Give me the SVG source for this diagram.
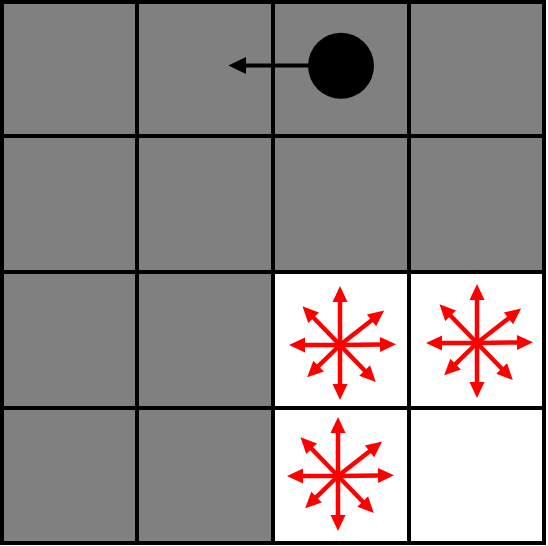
<svg xmlns="http://www.w3.org/2000/svg" xmlns:xlink="http://www.w3.org/1999/xlink" width="548" height="546" viewBox="0 0 548 546">
  <style>
    .cell-dark { fill: #808080; }
    .cell-light { fill: #ffffff; }
    .grid { stroke: #000000; stroke-width: 4; fill: none; }
    .red { stroke: #ff0000; stroke-width: 4.5; fill: none; }
    .move { stroke: #000000; stroke-width: 4; fill: none; }
  </style>
  <defs>
    <marker id="redhead" markerUnits="userSpaceOnUse" orient="auto" markerWidth="16" markerHeight="16" refX="0" refY="0" overflow="visible">
      <path d="M-1,-7.5 L15,0 L-1,7.5 Z" fill="#ff0000"/>
    </marker>
    <g id="star">
      <line class="red" x1="0" y1="0" x2="44" y2="0" transform="rotate(-90)" marker-end="url(#redhead)"/>
      <line class="red" x1="0" y1="0" x2="40" y2="0" transform="rotate(90)" marker-end="url(#redhead)"/>
      <line class="red" x1="0" y1="0" x2="36" y2="0" transform="rotate(180)" marker-end="url(#redhead)"/>
      <line class="red" x1="0" y1="0" x2="41" y2="0" transform="rotate(-0.7)" marker-end="url(#redhead)"/>
      <line class="red" x1="0" y1="0" x2="39" y2="0" transform="rotate(-134)" marker-end="url(#redhead)"/>
      <line class="red" x1="0" y1="0" x2="41" y2="0" transform="rotate(-38)" marker-end="url(#redhead)"/>
      <line class="red" x1="0" y1="0" x2="31" y2="0" transform="rotate(135.5)" marker-end="url(#redhead)"/>
      <line class="red" x1="0" y1="0" x2="36.5" y2="0" transform="rotate(46)" marker-end="url(#redhead)"/>
    </g>
  </defs>

  <rect x="0" y="0" width="548" height="546" fill="#ffffff"/>

  <g id="cells">
    <rect class="cell-dark" x="2" y="2" width="542" height="541"/>
    <rect id="cell-2-2" class="cell-light" x="273" y="272" width="136" height="136"/>
    <rect id="cell-3-2" class="cell-light" x="409" y="272" width="135" height="136"/>
    <rect id="cell-2-3" class="cell-light" x="273" y="408" width="136" height="135"/>
    <rect id="cell-3-3" class="cell-light" x="409" y="408" width="135" height="135"/>
  </g>

  <g id="gridlines">
    <line class="grid" x1="2" y1="0" x2="2" y2="545"/>
    <line class="grid" x1="137" y1="0" x2="137" y2="545"/>
    <line class="grid" x1="273" y1="0" x2="273" y2="545"/>
    <line class="grid" x1="409" y1="0" x2="409" y2="545"/>
    <line class="grid" x1="544" y1="0" x2="544" y2="545"/>
    <line class="grid" x1="0" y1="2" x2="546" y2="2"/>
    <line class="grid" x1="0" y1="136" x2="546" y2="136"/>
    <line class="grid" x1="0" y1="272" x2="546" y2="272"/>
    <line class="grid" x1="0" y1="408" x2="546" y2="408"/>
    <line class="grid" x1="0" y1="543" x2="546" y2="543"/>
  </g>

  <g id="connectors">
    <line class="move" x1="341" y1="65.5" x2="244" y2="65.5"/>
    <polygon points="228.3,65.5 246,57 246,74" fill="#000000"/>
    <use xlink:href="#star" href="#star" transform="translate(340,345)"/>
    <use xlink:href="#star" href="#star" transform="translate(477,343)"/>
    <use xlink:href="#star" href="#star" transform="translate(338,476)"/>
  </g>

  <g id="agent">
    <circle cx="341" cy="65.8" r="33" fill="#000000"/>
  </g>
</svg>
